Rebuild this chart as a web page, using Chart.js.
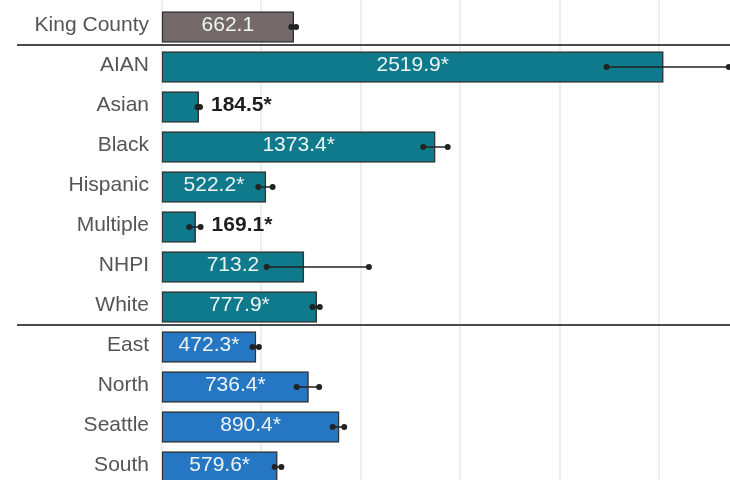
<!DOCTYPE html>
<html>
<head>
<meta charset="utf-8">
<script src="https://cdn.jsdelivr.net/npm/chart.js@4/dist/chart.umd.min.js"></script>
<style>
  html, body { margin: 0; padding: 0; background: #ffffff; }
  #wrap { width: 730px; height: 480px; position: relative; }
</style>
</head>
<body>
<div id="wrap"><canvas id="c" width="730" height="480"></canvas></div>
<script>
// ---- Data ----
const categories = ['King County', 'AIAN', 'Asian', 'Black', 'Hispanic', 'Multiple', 'NHPI', 'White', 'East', 'North', 'Seattle', 'South'];
const values     = [662.1, 2519.9, 184.5, 1373.4, 522.2, 169.1, 713.2, 777.9, 472.3, 736.4, 890.4, 579.6];
const ciLow      = [650, 2235, 178, 1313, 484, 137, 526, 756, 455, 677, 858, 566];
const ciHigh     = [674, 2849, 191, 1436, 556, 194, 1040, 793, 487, 790, 916, 600];
const significant = [false, true, true, true, true, true, false, true, true, true, true, true];
const groups     = ['county', 'race', 'race', 'race', 'race', 'race', 'race', 'race', 'region', 'region', 'region', 'region'];
const gridTicks  = [0, 500, 1000, 1500, 2000, 2500];

// ---- Styles ----
const groupColors = { county: '#736a69', race: '#0f7a8b', region: '#2677c3' };
const FONT = "'Liberation Sans', Arial, sans-serif";

const labels = values.map((v, i) => v.toFixed(1) + (significant[i] ? '*' : ''));

const gridPlugin = {
  id: 'fullGrid',
  beforeDatasetsDraw(chart) {
    const ctx = chart.ctx;
    const xs = chart.scales.x;
    ctx.save();
    ctx.strokeStyle = '#e9e9e9';
    ctx.lineWidth = 1.5;
    gridTicks.forEach(v => {
      const x = Math.round(xs.getPixelForValue(v));
      ctx.beginPath();
      ctx.moveTo(x, 0); ctx.lineTo(x, chart.height); ctx.stroke();
    });
    ctx.restore();
  }
};

const overlayPlugin = {
  id: 'overlay',
  afterDatasetsDraw(chart) {
    const ctx = chart.ctx;
    const xs = chart.scales.x, ys = chart.scales.y;
    const area = chart.chartArea;
    ctx.save();
    // error bars
    ctx.strokeStyle = '#222';
    ctx.fillStyle = '#222';
    ctx.lineWidth = 1.5;
    for (let i = 0; i < values.length; i++) {
      const y = ys.getPixelForValue(i);
      const x1 = xs.getPixelForValue(ciLow[i]);
      const x2 = xs.getPixelForValue(ciHigh[i]);
      ctx.beginPath();
      ctx.moveTo(x1, y); ctx.lineTo(x2, y); ctx.stroke();
      [x1, x2].forEach(x => { ctx.beginPath(); ctx.arc(x, y, 3, 0, Math.PI * 2); ctx.fill(); });
    }
    // value labels
    ctx.textBaseline = 'middle';
    for (let i = 0; i < values.length; i++) {
      const y = ys.getPixelForValue(i) - 2;
      const x0 = xs.getPixelForValue(0);
      const xe = xs.getPixelForValue(values[i]);
      ctx.font = '21px ' + FONT;
      const w = ctx.measureText(labels[i]).width;
      if (w + 8 < xe - x0) {
        ctx.fillStyle = '#eef4f4';
        ctx.textAlign = 'center';
        ctx.fillText(labels[i], (x0 + xe) / 2, y);
      } else {
        ctx.font = 'bold 21px ' + FONT;
        ctx.fillStyle = '#1e1e1e';
        ctx.textAlign = 'left';
        ctx.fillText(labels[i], xs.getPixelForValue(ciHigh[i]) + 11, y);
      }
    }
    // group separators
    ctx.strokeStyle = '#4a4a4a';
    ctx.lineWidth = 2;
    for (let i = 1; i < groups.length; i++) {
      if (groups[i] !== groups[i - 1]) {
        const y = (ys.getPixelForValue(i - 1) + ys.getPixelForValue(i)) / 2 - 2;
        ctx.beginPath();
        ctx.moveTo(17, y); ctx.lineTo(area.right, y); ctx.stroke();
      }
    }
    ctx.restore();
  }
};

new Chart(document.getElementById('c'), {
  type: 'bar',
  data: {
    labels: categories,
    datasets: [{
      data: values,
      backgroundColor: groups.map(g => groupColors[g]),
      borderColor: '#333',
      borderWidth: 1.5,
      borderSkipped: false,
      barThickness: 31,
      clip: false
    }]
  },
  options: {
    indexAxis: 'y',
    responsive: false,
    animation: false,
    layout: { padding: { top: 27, bottom: 13, left: 0, right: 0 } },
    plugins: { legend: { display: false }, tooltip: { enabled: false } },
    scales: {
      x: {
        type: 'linear',
        min: 0,
        max: 2855,
        afterFit(scale) { scale.height = 0; scale.paddingLeft = 0; scale.paddingRight = 0; },
        ticks: { display: false },
        border: { display: false },
        grid: { display: false, drawTicks: false }
      },
      y: {
        offset: false,
        afterFit(scale) { scale.width = 162; scale.paddingTop = 0; scale.paddingBottom = 0; },
        border: { display: false },
        grid: { display: false, drawTicks: false },
        ticks: {
          padding: 13,
          labelOffset: -2,
          color: '#555',
          font: { family: FONT, size: 21 }
        }
      }
    }
  },
  plugins: [gridPlugin, overlayPlugin]
});
</script>
</body>
</html>
